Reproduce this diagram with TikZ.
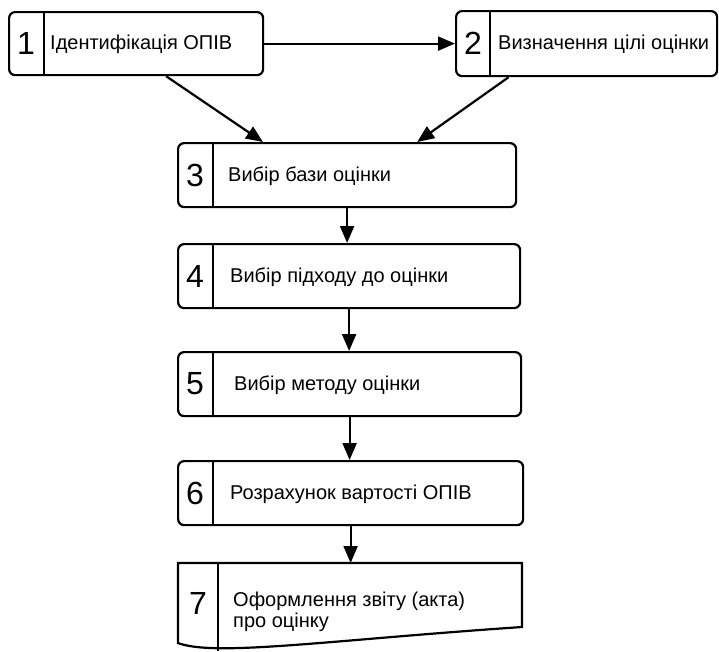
\documentclass[tikz,border=0pt]{standalone}
\usepackage{fontspec}
\setmainfont{Liberation Sans}
\usetikzlibrary{arrows.meta,calc,positioning}

\tikzset{
  stepbox/.style={draw, line width=2.2pt, rounded corners=6pt, anchor=north west, inner sep=0pt, minimum height=64pt},
  steptext/.style={anchor=west, inner sep=0pt, font=\fontsize{20}{21}\selectfont, align=left},
  stepnum/.style={inner sep=0pt, font=\fontsize{32}{36}\selectfont},
  divider/.style={line width=1.5pt},
  flow/.style={line width=2.2pt, -{Triangle[length=17pt,width=14pt]}}
}

\begin{document}
\begin{tikzpicture}[x=1pt,y=-1pt]
    \useasboundingbox (0,0) rectangle (719,651);

    % Top row: steps 1 and 2
    \node[stepbox, minimum width=254pt, minimum height=63pt] (b1) at (8,11) {};
    \node[stepbox, minimum width=261pt, minimum height=65pt] (b2) at (455,10) {};
    \draw[divider] ($(b1.north west)+(36,0)$) -- ($(b1.south west)+(36,0)$);
    \draw[divider] ($(b2.north west)+(35,0)$) -- ($(b2.south west)+(35,0)$);
    \node[stepnum] (n1) at ($(b1.west)+(18,0)$) {1};
    \node[stepnum] (n2) at ($(b2.west)+(18,0)$) {2};
    \node[steptext] (t1) at ($(b1.west)+(42,1)$) {Ідентифікація ОПІВ};
    \node[steptext] (t2) at ($(b2.west)+(43,1)$) {Визначення цілі оцінки};

    % Column: steps 3 to 6
    \foreach \n/\ty/\w/\dx/\lab in {
    3/142/338/51/{Вибір бази оцінки},
    4/243/342/53/{Вибір підходу до оцінки},
    5/351/343/57/{Вибір методу оцінки},
    6/460/345/53/{Розрахунок вартості ОПІВ}} {
    \node[stepbox, minimum width=\w pt] (b\n) at (177,\ty) {};
    \draw[divider] ($(b\n.north west)+(36,0)$) -- ($(b\n.south west)+(36,0)$);
    \node[stepnum] (n\n) at ($(b\n.west)+(18,0)$) {\n};
    \node[steptext] (t\n) at ($(b\n.west)+(\dx,1)$) {\lab};
    }

    % Step 7: document shape
    \node[anchor=north west, inner sep=0pt, minimum width=344pt, minimum height=82pt] (b7) at (178,563) {};
    \draw[line width=2.2pt] (178,643) -- (178,563) -- (522,563) -- (522,627)
        .. controls (330,640) and (215,657) .. (178,643) -- cycle;
    \draw[divider] (218,563) -- (218,651);
    \node[stepnum] (n7) at (198,603) {7};
    \node[steptext] (t7) at (233,612) {Оформлення звіту (акта)\\про оцінку};

    % Connectors
    \draw[flow] (b1.east) -- (b2.west);
    \draw[flow] ($(b1.south)+(30,0)$) -- ($(b3.north west)+(86,0)$);
    \draw[flow] ($(b2.south)+(-78,0)$) -- ($(b3.north east)+(-100,0)$);
    \foreach \a/\b in {3/4, 4/5, 5/6, 6/7} {
    \draw[flow] (b\a.south) -- (b\a.south |- b\b.north);
    }
\end{tikzpicture}
\end{document}
